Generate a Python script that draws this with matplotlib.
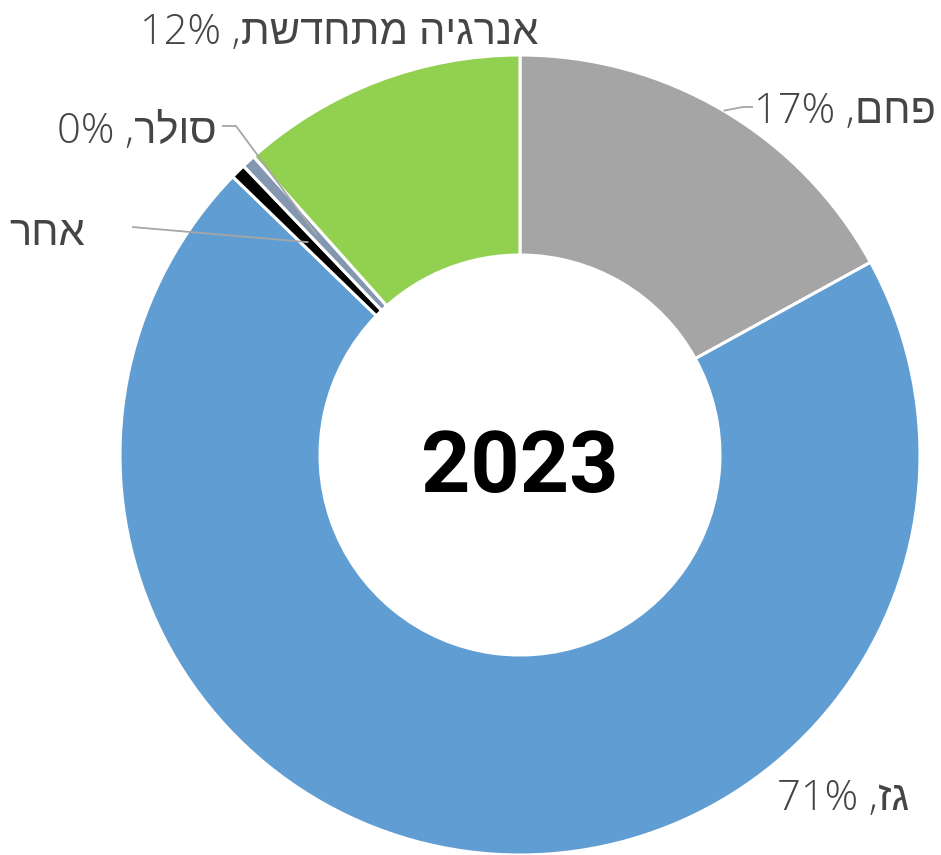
import numpy as np
import matplotlib.pyplot as plt

# share of electricity production by source, 2023
labels = ['פחם', 'גז', 'אחר', 'סולר', 'אנרגיה מתחדשת']
values = [17.0, 70.25, 0.6, 0.55, 11.6]
pct_text = ['17%', '71%', None, '0%', '12%']
colors = ['#A5A5A5', '#5F9DD2', '#000000', '#8497B0', '#92D050']
year = '2023'

W, H = 941, 855
fig = plt.figure(figsize=(W / 100, H / 100), dpi=100)
ax = fig.add_axes([0, 0, 1, 1])

cx, cy, R = 520, 400, 400
wedges, _ = ax.pie(values, colors=colors, startangle=90, counterclock=False,
                   radius=R, center=(cx, cy), frame=True,
                   wedgeprops=dict(width=200, edgecolor='white', linewidth=2.2))
ax.set_xlim(0, W)
ax.set_ylim(0, H)
ax.set_aspect('equal')
ax.axis('off')


def disp(i):
    # matplotlib has no bidi, so hebrew goes in visual order
    name = labels[i][::-1]
    if pct_text[i] is None:
        return name
    return pct_text[i] + ' ,' + name


def mid_point(w, r):
    a = np.deg2rad((w.theta1 + w.theta2) / 2)
    return cx + r * np.cos(a), cy + r * np.sin(a)


# Open Sans light for digits, Liberation Sans carries the hebrew letters
lab_font = dict(family=['Open Sans', 'Liberation Sans', 'DejaVu Sans'],
                fontsize=30, color='#454545', fontweight='light',
                ha='center', va='baseline')
lab_pos = [(845, 732), (843, 45), (47, 610), (137, 712), (339, 811)]
for i, (x, y) in enumerate(lab_pos):
    ax.text(x, y, disp(i), **lab_font)

line_kw = dict(color='#A6A6A6', lw=1.3, solid_capstyle='butt')
# coal
px, py = mid_point(wedges[0], R)
ax.plot([753, 743, px], [748, 748, py], **line_kw)
# solar
px, py = mid_point(wedges[3], 300)
ax.plot([222, 236, px], [729, 729, py], **line_kw)
# other
px, py = mid_point(wedges[2], 300)
ax.plot([132, px], [628, py], **line_kw)

ax.text(cx, 363, year, family=['Roboto', 'DejaVu Sans'],
        fontsize=62, fontweight='bold', color='black', ha='center', va='baseline')

fig.savefig('out.png', dpi=100)
